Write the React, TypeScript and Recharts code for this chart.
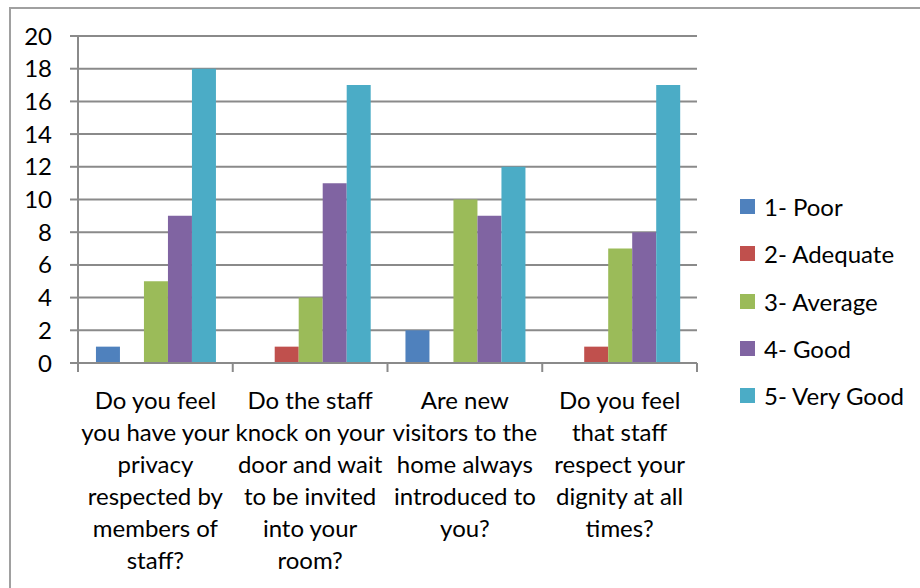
import { Bar, BarChart, CartesianGrid, XAxis, YAxis } from 'recharts';

const questions = [
  ['Do you feel', 'you have your', 'privacy', 'respected by', 'members of', 'staff?'],
  ['Do the staff', 'knock on your', 'door and wait', 'to be invited', 'into your', 'room?'],
  ['Are new', 'visitors to the', 'home always', 'introduced to', 'you?'],
  ['Do you feel', 'that staff', 'respect your', 'dignity at all', 'times?'],
];

const ratings = ['1- Poor', '2- Adequate', '3- Average', '4- Good', '5- Very Good'];
const colors = ['#4F81BD', '#C0504D', '#9BBB59', '#8064A2', '#4BACC6'];

const poor = [1, 0, 2, 0];
const adequate = [0, 1, 0, 1];
const average = [5, 4, 10, 7];
const good = [9, 11, 9, 8];
const veryGood = [18, 17, 12, 17];

const yTicks = [0, 2, 4, 6, 8, 10, 12, 14, 16, 18, 20];

const seriesValues = [poor, adequate, average, good, veryGood];

const rows = questions.map((lines, i) => {
  const row: Record<string, string | number> = { key: `q${i}` };
  ratings.forEach((name, s) => {
    row[name] = seriesValues[s][i];
  });
  return row;
});

const FONT = 'Lato, "Open Sans", sans-serif';
const GRID = '#8a8a8a';

function QuestionTick(props: any) {
  const { x, y, payload, index, visibleTicksCount } = props;
  const half = payload?.offset ?? 0;
  const lines = questions[index] ?? [];
  const isLast = index === visibleTicksCount - 1;
  return (
    <g>
      <line x1={x - half} x2={x - half} y1={y} y2={y + 9} stroke={GRID} strokeWidth={2} />
      {isLast && <line x1={x + half} x2={x + half} y1={y} y2={y + 9} stroke={GRID} strokeWidth={2} />}
      <text x={x} y={y + 46} textAnchor="middle" fill="#000" fontSize={24} fontFamily={FONT}>
        {lines.map((line: string, i: number) => (
          <tspan key={i} x={x} dy={i === 0 ? 0 : 32}>
            {line}
          </tspan>
        ))}
      </text>
    </g>
  );
}

function RatingLegend() {
  return (
    <div
      style={{
        position: 'absolute',
        left: 740,
        top: 183,
        fontFamily: FONT,
        fontSize: 24,
        color: '#000',
        whiteSpace: 'nowrap',
      }}
    >
      {ratings.map((name, i) => (
        <div key={name} style={{ display: 'flex', alignItems: 'center', height: 47.3 }}>
          <span style={{ width: 15, height: 15, background: colors[i], marginRight: 9, display: 'inline-block' }} />
          <span>{name}</span>
        </div>
      ))}
    </div>
  );
}

export default function App() {
  return (
    <div
      style={{
        position: 'fixed',
        left: 0,
        top: 0,
        width: 920,
        height: 588,
        overflow: 'hidden',
        background: '#fff',
      }}
    >
      <div
        style={{
          position: 'absolute',
          left: 9,
          top: 7,
          width: 940,
          height: 620,
          border: '2px solid #a0a0a0',
        }}
      />
      <BarChart
        width={920}
        height={588}
        data={rows}
        margin={{ top: 36, right: 223, bottom: 0, left: 0 }}
        barCategoryGap="11.6%"
        barGap={0}
      >
        <CartesianGrid vertical={false} stroke={GRID} strokeWidth={2} />
        <XAxis
          dataKey="key"
          height={225}
          tickSize={0}
          tickMargin={0}
          tickLine={false}
          axisLine={{ stroke: GRID, strokeWidth: 2 }}
          tick={<QuestionTick />}
          interval={0}
        />
        <YAxis
          width={78}
          domain={[0, 20]}
          ticks={yTicks}
          interval={0}
          tickSize={8}
          tickMargin={18}
          tickLine={{ stroke: GRID, strokeWidth: 2 }}
          axisLine={{ stroke: GRID, strokeWidth: 2 }}
          tick={{ fill: '#000', fontSize: 24, fontFamily: FONT }}
        />
        {ratings.map((name, i) => (
          <Bar key={name} dataKey={name} fill={colors[i]} isAnimationActive={false} />
        ))}
      </BarChart>
      <RatingLegend />
    </div>
  );
}
